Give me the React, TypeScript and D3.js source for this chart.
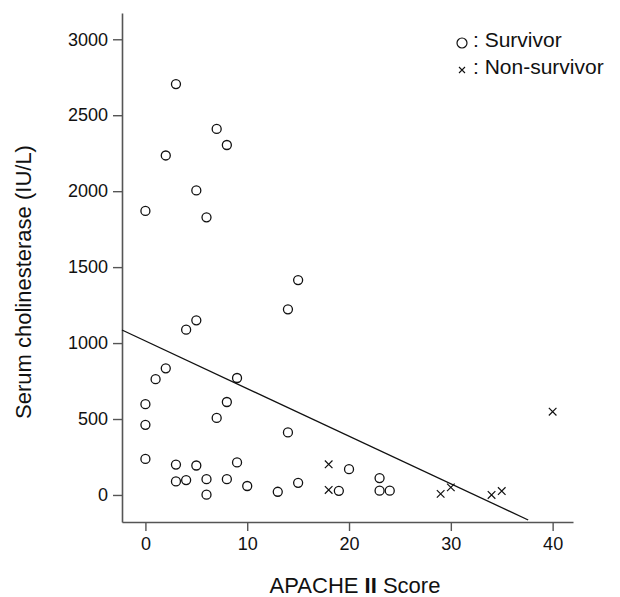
import React, { useEffect, useRef } from "react";
import * as d3 from "d3";

// survivors (circles)
const survivorScore = [0, 2, 3, 5, 6, 7, 8, 14, 15, 4, 5, 1, 2, 9, 0, 0, 7, 8, 14, 0, 3, 5, 9, 3, 4, 6, 8, 6, 10, 13, 15, 19, 20, 23, 23, 24];
const survivorChE = [1870, 2235, 2705, 2005, 1828, 2410, 2304, 1222, 1415, 1088, 1150, 762, 834, 770, 598, 462, 507, 612, 412, 237, 200, 194, 214, 89, 98, 104, 104, 2, 59, 21, 80, 27, 170, 111, 28, 28];

// non-survivors (crosses)
const nonSurvivorScore = [18, 18, 29, 30, 34, 35, 40];
const nonSurvivorChE = [202, 33, 7, 50, 0, 26, 548];

const xTicks = [0, 10, 20, 30, 40];
const yTicks = [0, 500, 1000, 1500, 2000, 2500, 3000];

// regression line
const lineIntercept = 1014;
const lineSlope = -31.35;
const lineRange = [-2.3, 37.6];

const FONT = "'Liberation Sans', Arial, Helvetica, sans-serif";

const App = () => {
  const svgRef = useRef<SVGSVGElement>(null);

  useEffect(() => {
    const svg = d3.select(svgRef.current);

    const x = d3.scaleLinear().domain([-2.3, 42]).range([122, 573]);
    const y = d3.scaleLinear().domain([-178, 3173]).range([522, 13]);

    // axes
    const yAxis = svg
      .append("g")
      .attr("transform", `translate(${x.range()[0]},0)`)
      .call(
        d3.axisLeft(y).tickValues(yTicks).tickFormat(d3.format("d")).tickSize(9).tickSizeOuter(0).tickPadding(5)
      );

    const xAxis = svg
      .append("g")
      .attr("transform", `translate(0,${y.range()[0]})`)
      .call(
        d3.axisBottom(x).tickValues(xTicks).tickFormat(d3.format("d")).tickSize(9).tickSizeOuter(0).tickPadding(6)
      );

    [xAxis, yAxis].forEach((a) => {
      a.select(".domain").attr("stroke", "#555").attr("stroke-width", 1.6);
      a.selectAll(".tick line").attr("stroke", "#555").attr("stroke-width", 1.4);
      a.selectAll(".tick text")
        .attr("fill", "#111")
        .style("font-family", FONT)
        .style("font-size", "18px");
    });

    // regression line
    svg
      .append("line")
      .attr("x1", x(lineRange[0]))
      .attr("y1", y(lineIntercept + lineSlope * lineRange[0]))
      .attr("x2", x(lineRange[1]))
      .attr("y2", y(lineIntercept + lineSlope * lineRange[1]))
      .attr("stroke", "#111")
      .attr("stroke-width", 1.3);

    // survivors
    svg
      .append("g")
      .selectAll("circle")
      .data(survivorScore.map((s, i) => [s, survivorChE[i]]))
      .enter()
      .append("circle")
      .attr("cx", (d) => x(d[0]))
      .attr("cy", (d) => y(d[1]))
      .attr("r", 4.5)
      .attr("fill", "none")
      .attr("stroke", "#111")
      .attr("stroke-width", 1.3);

    // non-survivors
    const cross = (h: number) => `M${-h},${-h}L${h},${h}M${-h},${h}L${h},${-h}`;
    svg
      .append("g")
      .selectAll("path")
      .data(nonSurvivorScore.map((s, i) => [s, nonSurvivorChE[i]]))
      .enter()
      .append("path")
      .attr("transform", (d) => `translate(${x(d[0])},${y(d[1])})`)
      .attr("d", cross(3.8))
      .attr("stroke", "#111")
      .attr("stroke-width", 1.2);

    // legend
    const leg = svg.append("g").style("font-family", FONT).style("font-size", "21px").attr("fill", "#111");
    leg.append("circle").attr("cx", 462).attr("cy", 43).attr("r", 5).attr("fill", "none").attr("stroke", "#111").attr("stroke-width", 1.2);
    leg.append("text").attr("x", 473).attr("y", 47).text(": Survivor");
    leg.append("path").attr("transform", "translate(462,70)").attr("d", cross(3)).attr("stroke", "#111").attr("stroke-width", 1.1);
    leg.append("text").attr("x", 473).attr("y", 74).text(": Non-survivor");

    // axis titles
    const xt = svg
      .append("text")
      .attr("x", 355)
      .attr("y", 593)
      .attr("text-anchor", "middle")
      .attr("fill", "#111")
      .style("font-family", FONT)
      .style("font-size", "22px");
    xt.append("tspan").text("APACHE ");
    xt.append("tspan").attr("font-weight", "bold").text("II");
    xt.append("tspan").text(" Score");

    svg
      .append("text")
      .attr("transform", "translate(31,282) rotate(-90)")
      .attr("text-anchor", "middle")
      .attr("fill", "#111")
      .style("font-family", FONT)
      .style("font-size", "22px")
      .text("Serum cholinesterase (IU/L)");

    return () => {
      svg.selectAll("*").remove();
    };
  }, []);

  return (
    <svg
      ref={svgRef}
      width={620}
      height={597}
      style={{ position: "absolute", left: 0, top: 0, background: "#fff" }}
    />
  );
};

export default App;
